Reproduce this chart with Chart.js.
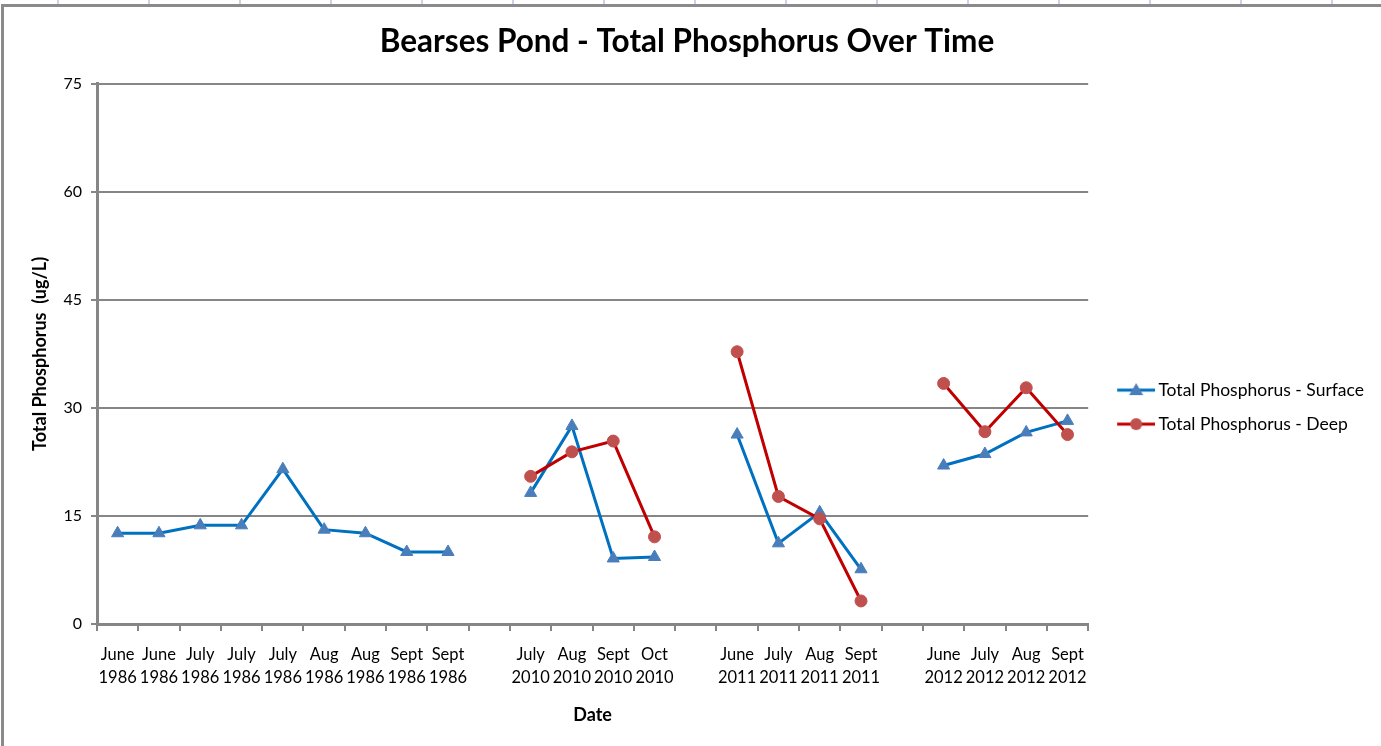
<!DOCTYPE html>
<html lang="en">
<head>
  <meta charset="UTF-8">
  <title>Bearses Pond - Total Phosphorus Over Time</title>
  <script src="https://cdn.jsdelivr.net/npm/chart.js"></script>
  <style>
    html, body {
      margin: 0;
      padding: 0;
      background: #fff;
    }
    body {
      width: 1381px;
      height: 746px;
      overflow: hidden;
      position: relative;
      font-family: Lato, sans-serif;
    }
    /* spreadsheet column lines peeking above the chart frame */
    .cols {
      position: absolute;
      left: 57px;
      top: 0;
      width: 1324px;
      height: 5px;
      background: repeating-linear-gradient(to right, #c9d3e6 0, #c9d3e6 2px, transparent 2px, transparent 91px);
    }
    .frame {
      position: absolute;
      left: 1px;
      top: 4px;
      right: 0;
      bottom: 0;
      border-top: 3px solid #8a8a8a;
      border-left: 3px solid #8a8a8a;
    }
    .wrap {
      position: absolute;
      left: 0;
      top: 0;
      width: 1381px;
      height: 746px;
    }
  </style>
</head>
<body>
  <div class="cols"></div>
  <div class="frame"></div>
  <div class="wrap"><canvas id="chart"></canvas></div>

  <script>
    // categories (blank ones separate the sampling years)
    const categories = [
      ['June', '1986'], ['June', '1986'], ['July', '1986'], ['July', '1986'], ['July', '1986'],
      ['Aug', '1986'], ['Aug', '1986'], ['Sept', '1986'], ['Sept', '1986'],
      '',
      ['July', '2010'], ['Aug', '2010'], ['Sept', '2010'], ['Oct', '2010'],
      '',
      ['June', '2011'], ['July', '2011'], ['Aug', '2011'], ['Sept', '2011'],
      '',
      ['June', '2012'], ['July', '2012'], ['Aug', '2012'], ['Sept', '2012']
    ];

    const surface = [
      12.6, 12.6, 13.7, 13.7, 21.5, 13.1, 12.6, 10.0, 10.0,
      null,
      18.2, 27.5, 9.1, 9.3,
      null,
      26.3, 11.2, 15.5, 7.6,
      null,
      22.0, 23.6, 26.6, 28.2
    ];

    const deep = [
      null, null, null, null, null, null, null, null, null,
      null,
      20.5, 23.9, 25.4, 12.1,
      null,
      37.8, 17.7, 14.6, 3.2,
      null,
      33.4, 26.7, 32.8, 26.3
    ];

    const yMin = 0, yMax = 75, yStep = 15;

    const axisGray = '#868686';
    const font = 'Lato';

    // legend icon: short line with the marker on it
    function legendIcon(lineColor, markColor, shape) {
      const c = document.createElement('canvas');
      c.width = 56;
      c.height = 16;
      const g = c.getContext('2d');
      g.strokeStyle = lineColor;
      g.lineWidth = 3;
      g.beginPath();
      g.moveTo(18, 8);
      g.lineTo(56, 8);
      g.stroke();
      g.fillStyle = markColor;
      g.beginPath();
      if (shape === 'triangle') {
        g.moveTo(37, 1);
        g.lineTo(44, 13);
        g.lineTo(30, 13);
        g.closePath();
      } else {
        g.arc(37, 8, 6, 0, Math.PI * 2);
      }
      g.fill();
      return c;
    }
    const icons = [
      legendIcon('#0070C0', '#4A7EBB', 'triangle'),
      legendIcon('#C00000', '#C0504D', 'circle')
    ];

    new Chart(document.getElementById('chart'), {
      type: 'line',
      data: {
        labels: categories,
        datasets: [{
          label: 'Total Phosphorus - Surface',
          data: surface,
          borderColor: '#0070C0',
          borderWidth: 3,
          pointStyle: 'triangle',
          pointRadius: 7,
          pointBackgroundColor: '#4A7EBB',
          pointBorderColor: '#4A7EBB',
          pointBorderWidth: 1,
          spanGaps: false,
          tension: 0,
          order: 1
        }, {
          label: 'Total Phosphorus - Deep',
          data: deep,
          borderColor: '#C00000',
          borderWidth: 3,
          pointStyle: 'circle',
          pointRadius: 6,
          pointBackgroundColor: '#C0504D',
          pointBorderColor: '#C0504D',
          pointBorderWidth: 1,
          spanGaps: false,
          tension: 0,
          order: 0
        }]
      },
      options: {
        responsive: true,
        maintainAspectRatio: false,
        animation: false,
        layout: { padding: { right: 7 } },
        plugins: {
          title: {
            display: true,
            text: 'Bearses Pond - Total Phosphorus Over Time',
            color: '#000',
            font: { family: font, size: 31.5, weight: 'bold' },
            padding: { top: 23, bottom: 23 }
          },
          legend: {
            position: 'right',
            title: {
              display: true,
              text: ' ',
              font: { family: font, size: 16 },
              padding: { top: 49, bottom: 0 }
            },
            labels: {
              color: '#000',
              font: { family: font, size: 17.5 },
              usePointStyle: true,
              pointStyleWidth: 45,
              padding: 16.5,
              sort: (a, b) => a.datasetIndex - b.datasetIndex,
              generateLabels: chart => Chart.defaults.plugins.legend.labels.generateLabels(chart)
                .map(item => Object.assign(item, { pointStyle: icons[item.datasetIndex] }))
            }
          },
          tooltip: { enabled: false }
        },
        scales: {
          x: {
            offset: true,
            grid: {
              offset: true,
              drawOnChartArea: false,
              drawTicks: true,
              tickLength: 7,
              color: axisGray,
              lineWidth: 2
            },
            border: { color: axisGray, width: 3 },
            ticks: {
              autoSkip: false,
              maxRotation: 0,
              minRotation: 0,
              color: '#000',
              padding: 12,
              font: { family: font, size: 16.5, lineHeight: 1.4 }
            },
            title: {
              display: true,
              text: 'Date',
              color: '#000',
              font: { family: font, size: 18, weight: 'bold' },
              padding: { top: 4, bottom: 20 }
            },
            afterFit: s => { s.height = 122; }
          },
          y: {
            min: yMin,
            max: yMax,
            ticks: {
              stepSize: yStep,
              color: '#000',
              padding: 9,
              font: { family: font, size: 16 }
            },
            grid: { color: axisGray, lineWidth: 2, tickLength: 6 },
            border: { color: axisGray, width: 3 },
            title: {
              display: true,
              text: 'Total Phosphorus  (ug/L)',
              color: '#000',
              font: { family: font, size: 18, weight: 'bold' },
              padding: { top: 29, bottom: 4 }
            },
            afterFit: s => { s.width = 97; }
          }
        }
      }
    });
  </script>
</body>
</html>
